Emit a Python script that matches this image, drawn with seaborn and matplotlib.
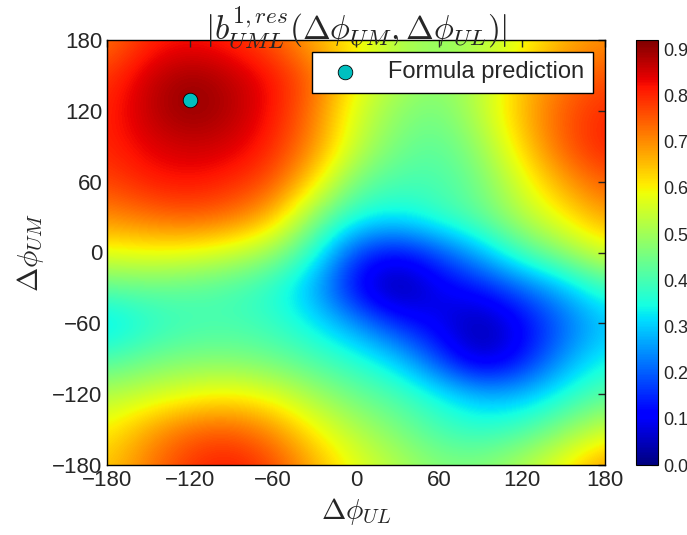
import numpy as np
import matplotlib
matplotlib.use("Agg")
import matplotlib.pyplot as plt
import seaborn as sns

# Grid of |b| values, every 30 degrees
phi_ul = [-180, -150, -120, -90, -60, -30, 0, 30, 60, 90, 120, 150, 180]
phi_um = [-180, -150, -120, -90, -60, -30, 0, 30, 60, 90, 120, 150, 180]

# rows follow phi_um (bottom to top), columns follow phi_ul
row_m180 = [0.64, 0.72, 0.79, 0.82, 0.77, 0.67, 0.58, 0.52, 0.47, 0.47, 0.52, 0.60, 0.70]
row_m150 = [0.60, 0.68, 0.74, 0.75, 0.70, 0.60, 0.52, 0.46, 0.40, 0.37, 0.40, 0.47, 0.55]
row_m120 = [0.52, 0.55, 0.58, 0.60, 0.57, 0.50, 0.44, 0.40, 0.34, 0.28, 0.28, 0.35, 0.42]
row_m90 = [0.40, 0.44, 0.46, 0.46, 0.44, 0.40, 0.36, 0.30, 0.17, 0.04, 0.12, 0.25, 0.34]
row_m60 = [0.30, 0.36, 0.39, 0.40, 0.38, 0.33, 0.25, 0.15, 0.09, 0.02, 0.10, 0.20, 0.29]
row_m30 = [0.42, 0.43, 0.42, 0.40, 0.36, 0.27, 0.10, 0.00, 0.09, 0.13, 0.20, 0.28, 0.38]
row_0 = [0.58, 0.59, 0.58, 0.55, 0.49, 0.36, 0.16, 0.11, 0.18, 0.28, 0.40, 0.48, 0.57]
row_30 = [0.70, 0.73, 0.75, 0.73, 0.66, 0.47, 0.35, 0.33, 0.38, 0.43, 0.52, 0.60, 0.68]
row_60 = [0.77, 0.81, 0.82, 0.80, 0.76, 0.62, 0.45, 0.40, 0.40, 0.45, 0.57, 0.68, 0.75]
row_90 = [0.80, 0.84, 0.86, 0.85, 0.80, 0.70, 0.54, 0.45, 0.42, 0.49, 0.63, 0.75, 0.81]
row_120 = [0.80, 0.87, 0.91, 0.88, 0.82, 0.72, 0.56, 0.48, 0.45, 0.53, 0.66, 0.75, 0.80]
row_150 = [0.78, 0.86, 0.90, 0.87, 0.82, 0.74, 0.60, 0.52, 0.48, 0.53, 0.64, 0.72, 0.76]
row_180 = [0.72, 0.80, 0.82, 0.80, 0.75, 0.66, 0.60, 0.52, 0.48, 0.52, 0.58, 0.66, 0.70]

# formula prediction point
pred_ul = [-120]
pred_um = [129]

ticks = [-180, -120, -60, 0, 60, 120, 180]
cbar_ticks = [0.0, 0.1, 0.2, 0.3, 0.4, 0.5, 0.6, 0.7, 0.8, 0.9]

sns.set_style("white")
plt.rcParams['font.family'] = ['Liberation Sans', 'DejaVu Sans']
plt.rcParams['mathtext.fontset'] = 'cm'

grid = np.array([row_m180, row_m150, row_m120, row_m90, row_m60, row_m30, row_0,
                 row_30, row_60, row_90, row_120, row_150, row_180])

fig = plt.figure(figsize=(6.87, 5.35), dpi=100)
ax = fig.add_axes([107 / 687, 70 / 535, 498 / 687, 425 / 535])
cax = fig.add_axes([636 / 687, 70 / 535, 22 / 687, 425 / 535])

# pixel centres sit on the grid points
half = (phi_ul[1] - phi_ul[0]) / 2
im = ax.imshow(grid, origin='lower', cmap='jet', vmin=0, vmax=0.92,
               extent=[phi_ul[0] - half, phi_ul[-1] + half, phi_um[0] - half, phi_um[-1] + half],
               interpolation='bicubic', aspect='auto')

sns.scatterplot(x=pred_ul, y=pred_um, ax=ax, color='#00bfbf', edgecolor='black',
                linewidth=0.6, s=110, label='Formula prediction', zorder=5)

ax.set_xlim(-180, 180)
ax.set_ylim(-180, 180)
ax.set_xticks(ticks)
ax.set_yticks(ticks)
ax.tick_params(direction='in', length=5, width=1, top=True, right=True, labelsize=16)
for sp in ax.spines.values():
    sp.set_color('black')
    sp.set_linewidth(1)

ax.set_xlabel(r'$\Delta\phi_{UL}$', fontsize=21)
ax.set_ylabel(r'$\Delta\phi_{UM}$', fontsize=21)
ax.set_title(r'$|b^{1,res}_{UML}(\Delta\phi_{UM},\Delta\phi_{UL})|$', fontsize=24, pad=0)

leg = ax.legend(loc='upper right', fontsize=17, fancybox=False, framealpha=1,
                edgecolor='black', borderpad=0.4, handletextpad=0.8, handlelength=2.0)
leg.get_frame().set_linewidth(1)

cb = fig.colorbar(im, cax=cax, ticks=cbar_ticks)
cb.ax.tick_params(direction='in', length=5, labelsize=13)
cb.ax.set_yticklabels([f'{t:.1f}' for t in cbar_ticks])
cb.outline.set_edgecolor('black')

fig.savefig('out.png', dpi=100)
